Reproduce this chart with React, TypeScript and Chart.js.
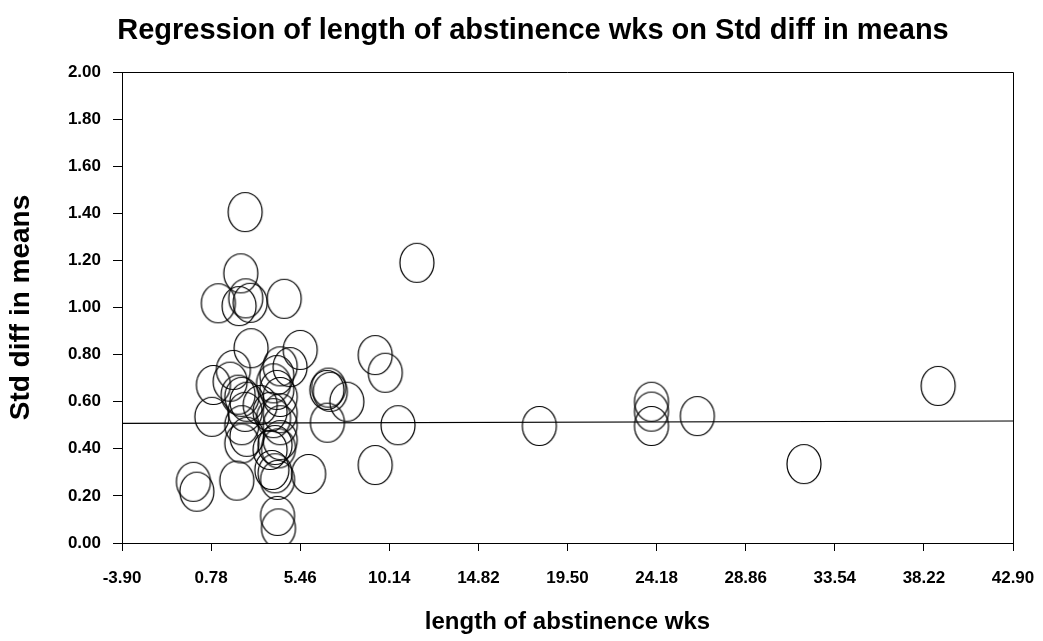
import React, { useEffect, useRef } from "react";
import { Chart, registerables } from "chart.js";

Chart.register(...registerables);

const chartTitle = "Regression of length of abstinence wks on Std diff in means";
const xAxisTitle = "length of abstinence wks";
const yAxisTitle = "Std diff in means";

const xTickValues = [-3.9, 0.78, 5.46, 10.14, 14.82, 19.5, 24.18, 28.86, 33.54, 38.22, 42.9];
const yTickValues = [0, 0.2, 0.4, 0.6, 0.8, 1.0, 1.2, 1.4, 1.6, 1.8, 2.0];

// study points: length of abstinence (weeks)
const abstinenceWks = [
  2.57, 2.34, 1.16, 2.60, 2.25, 2.83, 4.62, 11.59, 2.88, 5.46,
  9.40, 9.93, 4.93, 1.95, 1.78, 0.90, 4.23, 4.06, 4.23, 6.86,
  7.04, 6.95, 7.91, 2.39, 2.66, 2.20, 0.82, 2.39, 2.57, 3.36,
  3.88, 4.06, 4.41, 4.41, 4.41, 6.89, 10.60, 2.39, 2.66, 4.14,
  4.32, 4.41, 3.88, -0.15, 0.03, 2.13, 3.97, 4.14, 4.27, 5.90,
  9.40, 4.27, 4.32, 18.02, 23.91, 23.91, 23.91, 26.32, 31.92, 38.97,
  4.41,
];
// study points: standardized difference in means
const stdDiffMeans = [
  1.405, 1.145, 1.018, 1.039, 1.006, 1.02, 1.037, 1.19, 0.827, 0.82,
  0.798, 0.723, 0.747, 0.735, 0.685, 0.671, 0.713, 0.678, 0.65, 0.65,
  0.642, 0.66, 0.60, 0.621, 0.60, 0.63, 0.536, 0.50, 0.557, 0.586,
  0.557, 0.53, 0.551, 0.62, 0.50, 0.511, 0.50, 0.423, 0.451, 0.416,
  0.402, 0.437, 0.395, 0.26, 0.218, 0.265, 0.31, 0.296, 0.268, 0.293,
  0.331, 0.115, 0.062, 0.497, 0.60, 0.558, 0.497, 0.539, 0.335, 0.667,
  0.75,
];

// regression line end points
const regX = [-3.9, 42.9];
const regY = [0.508, 0.518];

function makeEllipse(): HTMLCanvasElement {
  const c = document.createElement("canvas");
  c.width = 38;
  c.height = 42;
  const ctx = c.getContext("2d")!;
  ctx.strokeStyle = "#000";
  ctx.lineWidth = 1.2;
  ctx.beginPath();
  ctx.ellipse(19, 21, 17, 19.5, 0, 0, Math.PI * 2);
  ctx.stroke();
  return c;
}

const framePlugin = {
  id: "frame",
  afterDraw(chart: any) {
    const { ctx, chartArea } = chart;
    ctx.save();
    ctx.strokeStyle = "#000";
    ctx.lineWidth = 1;
    ctx.beginPath();
    ctx.moveTo(chartArea.left, Math.round(chartArea.top) + 0.5);
    ctx.lineTo(Math.round(chartArea.right) + 0.5, Math.round(chartArea.top) + 0.5);
    ctx.lineTo(Math.round(chartArea.right) + 0.5, chartArea.bottom);
    ctx.stroke();
    ctx.fillStyle = "#000";
    ctx.font = "bold 29px 'Liberation Sans', Arial, sans-serif";
    ctx.textAlign = "center";
    ctx.textBaseline = "middle";
    ctx.fillText(chartTitle, 533, 31);
    ctx.restore();
  },
};

export default function App() {
  const ref = useRef<HTMLCanvasElement | null>(null);
  useEffect(() => {
    const canvas = ref.current!;
    const ellipse = makeEllipse();
    const points = abstinenceWks.map((x, i) => ({ x, y: stdDiffMeans[i] }));
    const line = regX.map((x, i) => ({ x, y: regY[i] }));
    const font = { family: "'Liberation Sans', Arial, sans-serif", weight: "bold" as const };
    const chart = new Chart(canvas, {
      type: "scatter",
      data: {
        datasets: [
          {
            type: "line",
            data: line,
            borderColor: "#000",
            borderWidth: 1.2,
            pointRadius: 0,
            fill: false,
          } as any,
          {
            data: points,
            pointStyle: ellipse as any,
            pointRadius: 18,
            borderColor: "#000",
            backgroundColor: "rgba(0,0,0,0)",
          },
        ],
      },
      options: {
        responsive: false,
        animation: false,
        layout: { padding: { top: 72, right: 30, left: 0, bottom: 0 } },
        plugins: {
          legend: { display: false },
          tooltip: { enabled: false },
          title: { display: false },
        },
        scales: {
          x: {
            type: "linear",
            min: -3.9,
            max: 42.9,
            afterBuildTicks: (s: any) => {
              s.ticks = xTickValues.map((v) => ({ value: v }));
            },
            afterFit: (s: any) => {
              s.height = 98;
              s.paddingLeft = 0;
              s.paddingRight = 0;
            },
            ticks: {
              color: "#000",
              font: { ...font, size: 17 },
              padding: 17,
              maxRotation: 0,
              autoSkip: false,
              callback: (v: any) => Number(v).toFixed(2),
            },
            grid: { drawOnChartArea: false, drawTicks: true, tickLength: 8, color: "#000" },
            border: { color: "#000", width: 1 },
            title: {
              display: true,
              text: xAxisTitle,
              color: "#000",
              font: { ...font, size: 24 },
              padding: { top: 0, bottom: 4 },
            },
          },
          y: {
            type: "linear",
            min: 0,
            max: 2,
            afterBuildTicks: (s: any) => {
              s.ticks = yTickValues.map((v) => ({ value: v }));
            },
            afterFit: (s: any) => {
              s.width = 122;
            },
            ticks: {
              color: "#000",
              font: { ...font, size: 17 },
              padding: 12,
              autoSkip: false,
              callback: (v: any) => Number(v).toFixed(2),
            },
            grid: { drawOnChartArea: false, drawTicks: true, tickLength: 9, color: "#000" },
            border: { color: "#000", width: 1 },
            title: {
              display: true,
              text: yAxisTitle,
              color: "#000",
              font: { ...font, size: 28 },
              padding: { top: 4, bottom: 0 },
            },
          },
        },
      },
      plugins: [framePlugin],
    });
    return () => chart.destroy();
  }, []);
  return (
    <div style={{ position: "absolute", left: 0, top: 0, width: 1043, height: 641, background: "#fff" }}>
      <canvas ref={ref} width={1043} height={641} style={{ width: 1043, height: 641 }} />
    </div>
  );
}
